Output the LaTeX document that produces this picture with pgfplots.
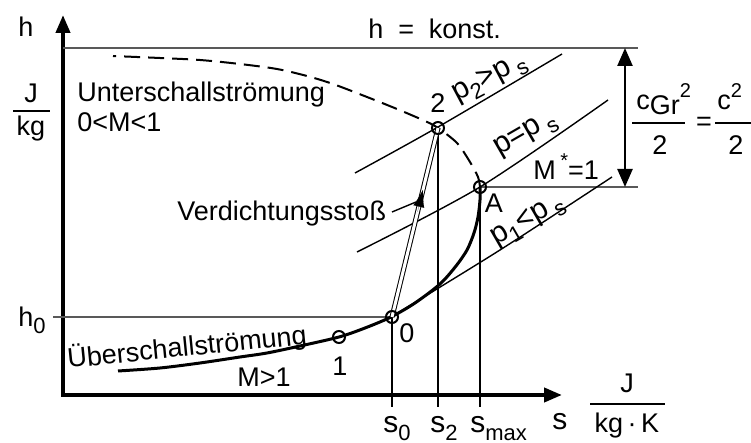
\documentclass[border=0pt]{standalone}
\usepackage{fontspec}
\setmainfont{Liberation Sans}
\usepackage{pgfplots}
\pgfplotsset{compat=1.18}
\usetikzlibrary{arrows.meta}

\newcommand{\lowsub}[1]{\raisebox{-0.45ex}{\fontsize{11}{11}\selectfont #1}}
\newcommand{\highsup}[1]{\raisebox{0.9ex}{\fontsize{10}{10}\selectfont #1}}

\begin{document}
\begin{tikzpicture}[font=\fontsize{13.5}{16}\selectfont, every node/.style={inner sep=0pt},
  plabel/.style={anchor=base west, font=\fontsize{15}{18}\selectfont}]
\begin{axis}[
  scale only axis, width=375.5pt, height=221.5pt,
  xmin=0, xmax=751, ymin=0, ymax=443, y dir=reverse,
  axis lines=none, clip=false,
  thin/.style={black, line width=0.7pt},
  guide/.style={black!65, line width=0.7pt},
  pt/.style={only marks, mark=o, mark size=3pt, mark options={line width=1pt, black, fill=none}},
]
% h-s axes
\addplot[black, line width=2pt, {Triangle[length=9pt,width=7pt]}-{Triangle[length=9pt,width=7pt]}]
  coordinates {(63,15) (63,395) (562,395)};

% horizontal guide lines: h = konst., M* = 1, h0
\addplot[guide] coordinates {(63,48) (638,48)};
\addplot[guide] coordinates {(480,187) (638,187)};
\addplot[guide] coordinates {(53,317) (392,317)};

% vertical lines down to the s axis (with ticks)
\addplot[thin] coordinates {(392,317) (392,407)};
\addplot[thin] coordinates {(438,128) (438,407)};
\addplot[thin] coordinates {(480,187) (480,407)};

% isobars
\addplot[thin, smooth] coordinates {(355,173) (438,127) (562,54)};
\addplot[thin, smooth] coordinates {(357,252) (480,187) (608,100)};
\addplot[thin, smooth] coordinates {(391,317) (500,250) (612,177)};

% supersonic branch up to the sonic point A
\addplot[black, line width=1.5pt, smooth] coordinates {
  (118,371) (160,368) (200,363) (240,357) (267,353) (300,346) (339,337)
  (365,328) (391,317) (415,303) (440,284) (456,266) (467,250) (474,233)
  (478,217) (480,200) (480,187)};

% subsonic branch (dashed)
\addplot[black, line width=1pt, smooth, dash pattern=on 8pt off 4pt] coordinates {
  (480,187) (478,177) (470,162) (457,143) (438,128) (425,121) (397,109)
  (367,97) (333,84) (307,76) (277,69) (240,64) (200,60) (160,58) (113,56)};

% normal shock 0 -> 2 (double line) and its direction arrow
\addplot[black, line width=0.5pt, double, double distance=1.5pt]
  coordinates {(392,317) (438,128)};
\addplot[black, line width=0.05pt, -{Latex[length=8.5pt,width=5.5pt]}]
  coordinates {(417.5,212) (422.8,190)};

% leader for the shock label
\addplot[thin] coordinates {(392,212) (416,202)};

% double arrow for the kinetic energy
\addplot[black, line width=1.2pt, {Triangle[length=9pt,width=7.5pt]}-{Triangle[length=9pt,width=7.5pt]}]
  coordinates {(625,48) (625,187)};

% fraction bars
\addplot[thin] coordinates {(13,111) (50,111)};
\addplot[thin] coordinates {(590,404) (665,404)};
\addplot[thin] coordinates {(632,123) (685,123)};
\addplot[thin] coordinates {(715,123) (770,123)};

% state points
\addplot[pt] coordinates {(339,337) (392,317) (438,128) (480,187)};

% labels
\node[anchor=base west] at (axis cs:18,37) {h};
\node[anchor=base] at (axis cs:31,103) {J};
\node[anchor=base] at (axis cs:31,136) {kg};
\node[anchor=base west] at (axis cs:18,327) {h\lowsub{0}};

\node[anchor=base west] at (axis cs:368,39) {h\hspace{0.55em}=\hspace{0.55em}konst.};
\node[anchor=base west] at (axis cs:77,102) {Unterschallströmung};
\node[anchor=base west] at (axis cs:77,132) {0<M<1};
\node[anchor=base west] at (axis cs:177,221) {Verdichtungsstoß};
\node[anchor=base west, rotate=5.7] at (axis cs:68,368) {Überschallströmung};
\node[anchor=base west] at (axis cs:237,387) {M>1};

\node at (axis cs:340,366) {1};
\node at (axis cs:407,333) {0};
\node at (axis cs:438,103) {2};
\node at (axis cs:494,203) {A};

\node[plabel, rotate=28] at (axis cs:457,102) {p\lowsub{2}>p\,\lowsub{s}};
\node[plabel, rotate=30] at (axis cs:499,156) {p=p\,\lowsub{s}};
\node[plabel, rotate=30] at (axis cs:496,246) {p\lowsub{1}<p\,\lowsub{s}};
\node[anchor=base west] at (axis cs:533,180) {M\,\highsup{*}=1};

\node[anchor=base west] at (axis cs:636,110) {c\raisebox{-0.3ex}{Gr}\highsup{2}};
\node at (axis cs:660,145) {2};
\node at (axis cs:704,124) {=};
\node[anchor=base west] at (axis cs:717,110) {c\highsup{2}};
\node at (axis cs:736,145) {2};

\node[anchor=base west, font=\fontsize{15}{18}\selectfont] at (axis cs:383,433) {s\lowsub{0}};
\node[anchor=base west, font=\fontsize{15}{18}\selectfont] at (axis cs:430,433) {s\lowsub{2}};
\node[anchor=base west, font=\fontsize{15}{18}\selectfont] at (axis cs:470,433) {s\lowsub{max}};
\node[anchor=base west, font=\fontsize{15}{18}\selectfont] at (axis cs:552,430) {s};
\node[anchor=base] at (axis cs:627,393) {J};
\node[anchor=base] at (axis cs:627,433) {kg\,·\,K};
\end{axis}
\pgfresetboundingbox
\useasboundingbox (0,0) rectangle (375.5pt,221.5pt);
\end{tikzpicture}
\end{document}
